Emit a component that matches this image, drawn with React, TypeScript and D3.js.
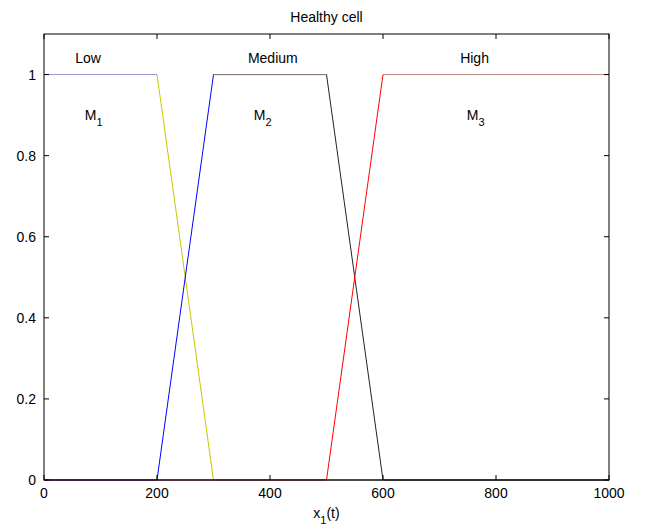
import React from "react";
import * as d3 from "d3";

const xTicks = [0, 200, 400, 600, 800, 1000];
const yTicks = [0, 0.2, 0.4, 0.6, 0.8, 1];

const lowX = [0, 200, 300, 1000];
const lowY = [1, 1, 0, 0];
const medUpX = [0, 200, 300, 500];
const medUpY = [0, 0, 1, 1];
const medDownX = [300, 500, 600, 1000];
const medDownY = [1, 1, 0, 0];
const highX = [0, 500, 600, 1000];
const highY = [0, 0, 1, 1];

const flatTopX = [[0, 200], [300, 500], [600, 1000]];
const flatBottomX = [[0, 1000]];

const labels = [
  { text: "Low", x: 78, y: 1.04 },
  { text: "Medium", x: 405, y: 1.04 },
  { text: "High", x: 762, y: 1.04 },
];
const mLabels = [
  { base: "M", sub: "1", x: 88, y: 0.9 },
  { base: "M", sub: "2", x: 387, y: 0.9 },
  { base: "M", sub: "3", x: 764, y: 0.9 },
];

const W = 647, H = 529;
const L = 44, R = 609, T = 34, B = 480;

export default function App() {
  const x = d3.scaleLinear().domain([0, 1000]).range([L, R]);
  const y = d3.scaleLinear().domain([0, 1.1]).range([B, T]);
  const line = d3.line<[number, number]>().x(d => x(d[0])).y(d => y(d[1]));
  const pts = (xs: number[], ys: number[]) => xs.map((v, i) => [v, ys[i]] as [number, number]);
  const font = "'Liberation Sans', Arial, Helvetica, sans-serif";
  const series = [
    { d: pts(lowX, lowY), c: "#c8c800" },
    { d: pts(medUpX, medUpY), c: "#0000ff" },
    { d: pts(medDownX, medDownY), c: "#222222" },
    { d: pts(highX, highY), c: "#ff0000" },
  ];
  const tick = 5;
  return (
    <svg width={W} height={H} style={{ position: "absolute", left: 0, top: 0, background: "#fff" }} fontFamily={font}>
      <rect x={0} y={0} width={W} height={H} fill="#fff" />
      {series.map((s, i) => (
        <path key={i} d={line(s.d) || ""} fill="none" stroke={s.c} strokeWidth={1} />
      ))}
      {flatTopX.map((seg, i) => (
        <g key={"ft" + i}>
          <path d={line(pts(seg, [1, 1])) || ""} stroke="#8c8cd0" strokeDasharray="1,1" fill="none" />
          <path d={line(pts(seg, [1, 1])) || ""} stroke="#c8a098" strokeDasharray="1,1" strokeDashoffset={1} fill="none" />
        </g>
      ))}
      {flatBottomX.map((seg, i) => (
        <g key={"fb" + i}>
          <path d={line(pts(seg, [0, 0])) || ""} stroke="#303070" strokeDasharray="1,1" fill="none" />
          <path d={line(pts(seg, [0, 0])) || ""} stroke="#905050" strokeDasharray="1,1" strokeDashoffset={1} fill="none" />
        </g>
      ))}
      <rect x={L} y={T} width={R - L} height={B - T} fill="none" stroke="#000" strokeWidth={1} />
      {xTicks.map(t => (
        <g key={"x" + t}>
          <line x1={x(t)} x2={x(t)} y1={B} y2={B - tick} stroke="#000" />
          <line x1={x(t)} x2={x(t)} y1={T} y2={T + tick} stroke="#000" />
          <text x={x(t)} y={B + 18} textAnchor="middle" fontSize={14}>{t}</text>
        </g>
      ))}
      {yTicks.map(t => (
        <g key={"y" + t}>
          <line x1={L} x2={L + tick} y1={y(t)} y2={y(t)} stroke="#000" />
          <line x1={R} x2={R - tick} y1={y(t)} y2={y(t)} stroke="#000" />
          <text x={L - 8} y={y(t) + 5} textAnchor="end" fontSize={14}>{t}</text>
        </g>
      ))}
      {labels.map(l => (
        <text key={l.text} x={x(l.x)} y={y(l.y) + 5} textAnchor="middle" fontSize={14}>{l.text}</text>
      ))}
      {mLabels.map(m => (
        <text key={m.sub} x={x(m.x)} y={y(m.y) + 5} textAnchor="middle" fontSize={14}>
          {m.base}
          <tspan dy={6} fontSize={11}>{m.sub}</tspan>
        </text>
      ))}
      <text x={(L + R) / 2} y={22} textAnchor="middle" fontSize={14}>Healthy cell</text>
      <text x={(L + R) / 2} y={518} textAnchor="middle" fontSize={14}>
        x<tspan dy={6} fontSize={11}>1</tspan><tspan dy={-6}>(t)</tspan>
      </text>
    </svg>
  );
}
